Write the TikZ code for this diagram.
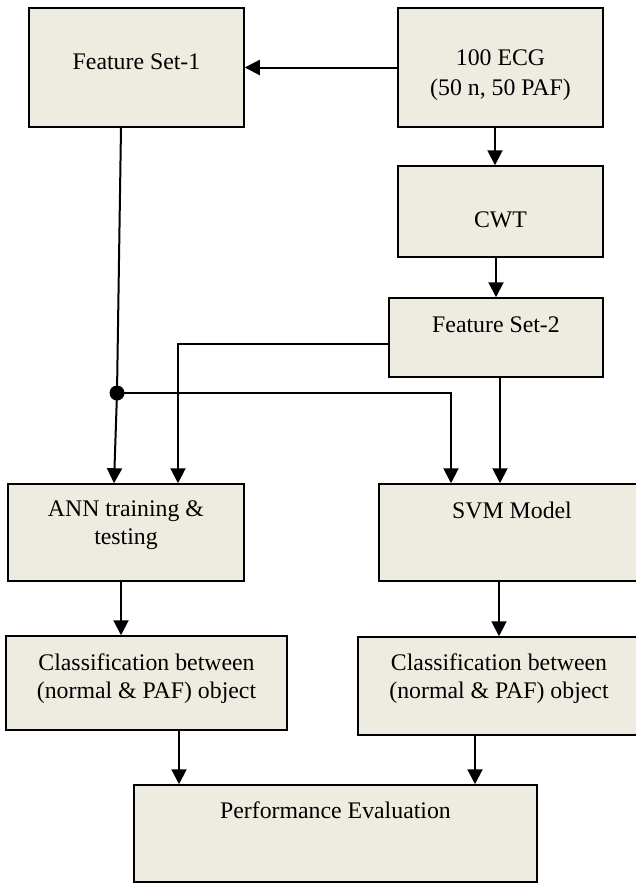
\documentclass[tikz,border=0pt]{standalone}
\usepackage{fontspec}
\setmainfont{Liberation Serif}
\usetikzlibrary{arrows.meta}
\definecolor{boxfill}{RGB}{238,236,225}

\begin{document}
\begin{tikzpicture}[x=0.5pt,y=-0.5pt,
	box/.style={shape=rectangle,draw=black,line width=0.75pt,fill=boxfill,inner sep=0pt,align=center,font=\fontsize{11.9}{14}\selectfont,text height=8pt},
	link/.style={line width=1pt},
	arr/.style={line width=1pt,-{Triangle[length=7.5pt,width=7.5pt]}}]
	
	\useasboundingbox (0,0) rectangle (636,884);
	\clip (0,0) rectangle (636,884);
	
	\node[box,minimum width=107.5pt,minimum height=59.5pt,text depth=6pt] (fs1) at (136.5,67.5) {Feature Set-1};
	\node[box,minimum width=102.5pt,minimum height=59.5pt,text height=27.9pt,text depth=0pt,font=\fontsize{11.9}{15}\selectfont] (ecg) at (500.5,67.5) {100 ECG\\(50 n, 50 PAF)};
	\node[box,minimum width=102.5pt,minimum height=45.5pt,text height=16pt,text depth=0pt] (cwt) at (500.5,211.5) {CWT};
	\node[box,minimum width=107pt,minimum height=39.5pt,text depth=13.5pt] (fs2) at (496,337.5) {Feature Set-2};
	\node[box,minimum width=118pt,minimum height=48.5pt,text height=22pt,text depth=10pt] (ann) at (126,532.5) {ANN training \&\\testing};
	\node[box,minimum width=133pt,minimum height=48.5pt,text depth=22.5pt] (svm) at (512,532.5) {SVM Model};
	\node[box,minimum width=140.5pt,minimum height=47pt,text height=22pt,text depth=6.7pt] (cls1) at (146.5,683) {Classification between\\(normal \& PAF) object};
	\node[box,minimum width=141pt,minimum height=49pt,text height=22pt,text depth=9.6pt] (cls2) at (499,686) {Classification between\\(normal \& PAF) object};
	\node[box,minimum width=201.5pt,minimum height=48.5pt,text depth=23pt] (perf) at (335.5,833.5) {Performance Evaluation};
	\node[shape=circle,fill=black,inner sep=0pt,minimum size=7.5pt] (dot) at (117,393) {};
	
	\draw[arr] (ecg.west) -- (fs1.east);
	\draw[arr] ([xshift=-2.75pt]ecg.south) -- ([xshift=-2.75pt]cwt.north);
	\draw[arr] (fs2.north |- cwt.south) -- (fs2.north);
	\draw[link] ([xshift=-7.75pt]fs1.south) -- (dot.center);
	\draw[arr] (dot.center) -- ([xshift=-6pt]ann.north);
	\draw[arr] (dot.center) -| ([xshift=-30.5pt]svm.north);
	\draw[arr] ([yshift=-3pt]fs2.west) -| ([xshift=26pt]ann.north);
	\draw[arr] ([xshift=2pt]fs2.south) -- ([xshift=2pt]fs2.south |- svm.north);
	\draw[arr] ([xshift=-2.5pt]ann.south) -- ([xshift=-2.5pt]ann.south |- cls1.north);
	\draw[arr] (cls2.north |- svm.south) -- (cls2.north);
	\draw[arr] ([xshift=16.25pt]cls1.south) -- ([xshift=16.25pt]cls1.south |- perf.north);
	\draw[arr] ([xshift=-12pt]cls2.south) -- ([xshift=-12pt]cls2.south |- perf.north);
	
\end{tikzpicture}
\end{document}
